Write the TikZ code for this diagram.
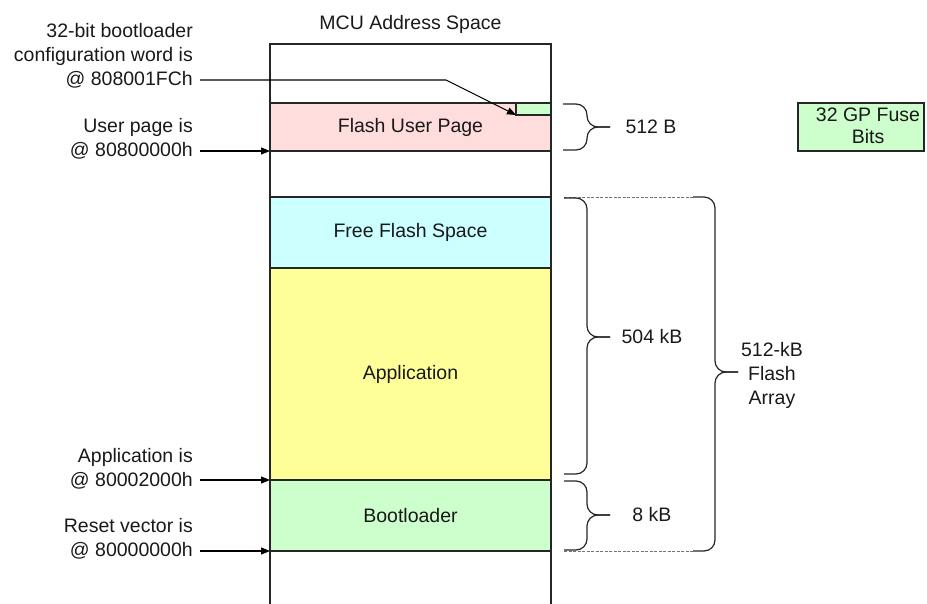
\documentclass[tikz,border=0pt]{standalone}
\usepackage{fontspec}
\setmainfont{Liberation Sans}
\usetikzlibrary{arrows.meta}
\definecolor{pagepink}{RGB}{255,221,221}
\definecolor{freecyan}{RGB}{204,255,255}
\definecolor{appyellow}{RGB}{255,255,153}
\definecolor{bootgreen}{RGB}{204,255,204}
\begin{document}
\begin{tikzpicture}[x=1pt,y=-1pt,
  every node/.style={font=\fontsize{19.5}{24}\selectfont, text=black!90},
  region/.style={draw=black!85, line width=1.2pt, minimum width=281pt,
    anchor=north west, inner sep=0pt, outer sep=0pt},
  lbl/.style={align=right, anchor=east, inner sep=0pt},
  arr/.style={draw=black, line width=1.1pt, -{Triangle[length=9pt,width=7pt]}},
  brc/.style={draw=black!85, line width=1.2pt, rounded corners=11pt},
  guide/.style={draw=black!55, line width=0.9pt, dash pattern=on 3pt off 1.5pt}]
\clip (0,0) rectangle (927,603);

% address space column (open at the bottom)
\node[region, minimum height=600pt] (space) at (270,44) {};
\node (title) at (410.5,24) {MCU Address Space};

% memory regions
\node[region, fill=pagepink, minimum height=48pt] (upage) at (270,103) {Flash User Page};
\node[region, fill=bootgreen, minimum width=35pt, minimum height=12pt] (cfg) at (516,103) {};
\node[region, fill=freecyan, minimum height=71pt] (free) at (270,197) {Free Flash Space};
\node[region, fill=appyellow, minimum height=212pt] (app) at (270,268) {Application};
\node[region, fill=bootgreen, minimum height=71pt] (boot) at (270,480) {Bootloader};

% fuse bits legend
\node[region, fill=bootgreen, minimum width=126pt, minimum height=48pt] (fuse) at (798,103) {};
\node[align=center, inner sep=0pt] (fusetxt) at (868,126) {32 GP Fuse\\[-2pt]Bits};

% address labels
\node[lbl] (lcfg) at (193,56) {32-bit bootloader\\configuration word is\\@ 808001FCh};
\node[lbl] (lup) at (193,139) {User page is\\@ 80800000h};
\node[lbl] (lapp) at (193,469) {Application is\\@ 80002000h};
\node[lbl] (lrst) at (193,539) {Reset vector is\\@ 80000000h};

\coordinate (scfg) at (200,80);
\coordinate (bend) at (446,80);
\coordinate (sup) at (200,151);
\coordinate (sapp) at (200,480);
\coordinate (srst) at (200,551);

\draw[arr] (scfg) -- (bend) -- (cfg.south west);
\draw[arr] (sup) -- (upage.south west);
\draw[arr] (sapp) -- (boot.north west);
\draw[arr] (srst) -- (boot.south west);

% size guides
\coordinate (gtop) at (693,197);
\coordinate (gbot) at (693,551);
\draw[guide] (564,197) -- (gtop);
\draw[guide] (564,551) -- (gbot);

% braces
\draw[brc] (563,104) -- (587,104) -- (587,127) -- (610,127);
\draw[brc] (610,127) -- (587,127) -- (587,150) -- (563,150);
\node (s512) at (651,127) {512 B};

\draw[brc] (564,198) -- (587,198) -- (587,337) -- (610,337);
\draw[brc] (610,337) -- (587,337) -- (587,474) -- (564,474);
\node (s504) at (652,337) {504 kB};

\draw[brc] (564,481) -- (587,481) -- (587,515) -- (610,515);
\draw[brc] (610,515) -- (587,515) -- (587,550) -- (564,550);
\node (s8) at (652,515) {8 kB};

\draw[brc] (gtop) -- (715,197) -- (715,372) -- (738,372);
\draw[brc] (738,372) -- (715,372) -- (715,551) -- (gbot);
\node[align=center, inner sep=0pt] (s512k) at (772,375) {512-kB\\Flash\\Array};
\end{tikzpicture}
\end{document}
